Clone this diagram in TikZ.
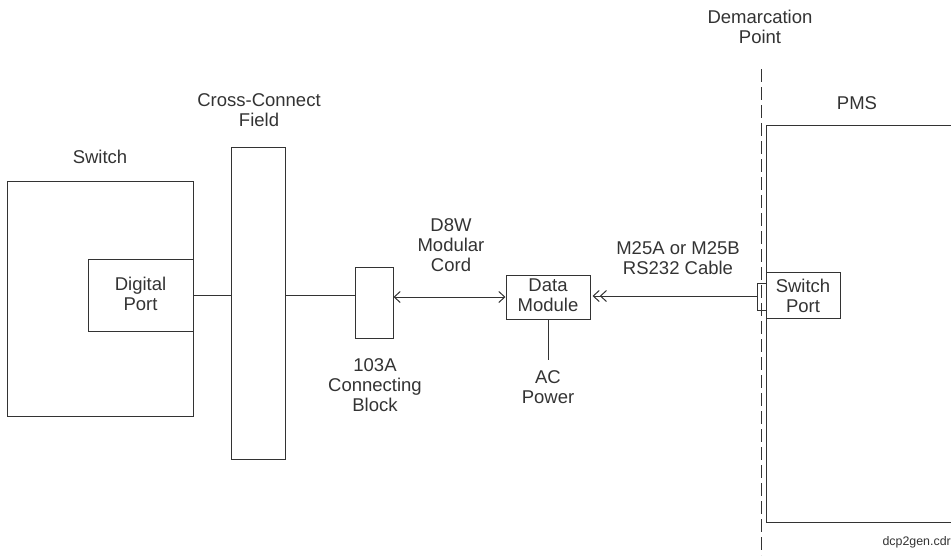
\documentclass[tikz,border=0pt]{standalone}
\usepackage{fontspec}
\setmainfont{Liberation Sans}
\usetikzlibrary{arrows.meta}
\definecolor{ink}{HTML}{333333}
\begin{document}
\begin{tikzpicture}[x=1pt,y=-1pt,
  every node/.style={inner sep=0pt, text=ink},
  lbl/.style={anchor=north, align=center, font=\fontsize{18.5}{20}\selectfont},
  boxline/.style={draw=ink, line width=1pt},
  wire/.style={draw=ink, line width=1pt},
  barb/.tip={Straight Barb[length=6pt,width=11pt,line width=1pt]}]
\useasboundingbox (0,0) rectangle (951,555);
% boxes
\coordinate (swA) at (7,181); \coordinate (swB) at (193,416);
\draw[boxline] (swA) rectangle (swB);
\node[boxline, minimum width=105pt, minimum height=72pt] (dp) at (140.5,295) {};
\node[boxline, minimum width=54pt, minimum height=312pt] (cc) at (258,303) {};
\node[boxline, minimum width=38pt, minimum height=71pt] (blk) at (374,302.5) {};
\node[boxline, minimum width=84pt, minimum height=44pt] (dm) at (548,297) {};
\coordinate (pmsA) at (766,125);
\draw[boxline] (960,125) -- (766,125) -- (766,522) -- (960,522);
\node[boxline, minimum width=74pt, minimum height=46pt] (sp) at (803,295) {};
\node[boxline, minimum width=9pt, minimum height=27pt] (stub) at (761.5,296.5) {};
% demarcation line
\coordinate (dtop) at (761,69); \coordinate (dbot) at (761,555);
\draw[ink, line width=1pt, dash pattern=on 13pt off 5pt] (dtop) -- (dbot);
% texts
\node[lbl] (tdem) at (760,10) {Demarcation\\Point};
\node[lbl] (tcc) at (259,93) {Cross-Connect\\Field};
\node[lbl] (tsw) at (100,150) {Switch};
\node[lbl] (tpms) at (857,96) {PMS};
\node[lbl] (tdp) at (140.5,277) {Digital\\Port};
\node[lbl] (td8w) at (451,218) {D8W\\Modular\\Cord};
\node[lbl] (tm25) at (678,241) {M25A or M25B\\RS232 Cable};
\node[lbl] (tdm) at (548,279) {Data\\Module};
\node[lbl] (tsp) at (803,279) {Switch\\Port};
\node[lbl] (t103) at (375,358) {103A\\Connecting\\Block};
\node[lbl] (tac) at (548,370) {AC\\Power};
\node[anchor=base east, font=\fontsize{12.4}{14}\selectfont] (tfile) at (951,545) {dcp2gen.cdr};
% connectors
\draw[wire] (dp.east |- 0,295) -- (cc.west |- 0,295);
\draw[wire] (cc.east |- 0,295) -- (blk.west |- 0,295);
\draw[wire, barb-barb] (blk.east |- 0,297) -- (dm.west |- 0,297);
\draw[wire, -{barb[]barb}] (stub.west |- 0,296) -- ([xshift=2pt]dm.east |- 0,296);
\coordinate (acend) at (548,360);
\draw[wire] (dm.south) -- (acend);
\end{tikzpicture}
\end{document}
